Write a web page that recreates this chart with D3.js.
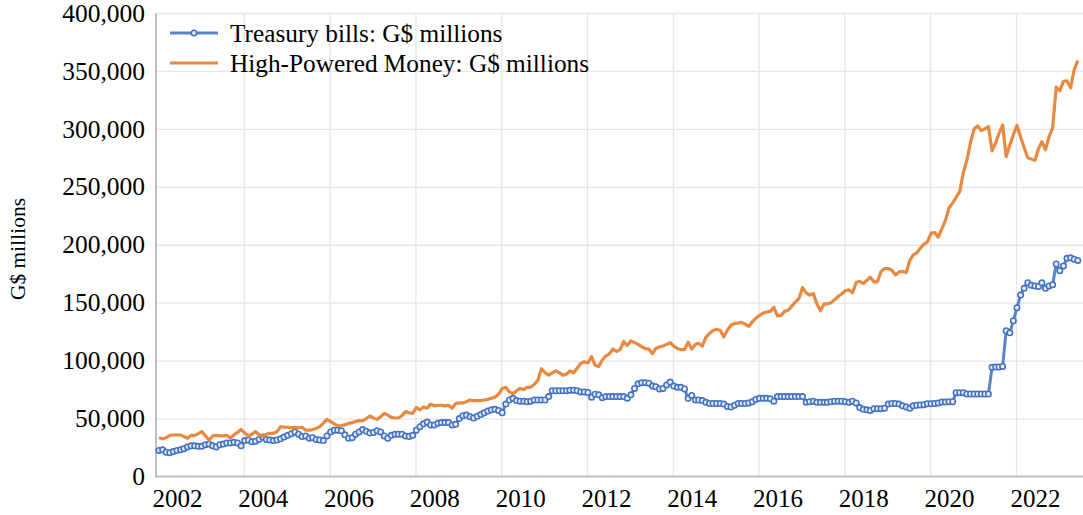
<!DOCTYPE html>
<html>
<head>
<meta charset="utf-8">
<script src="https://cdn.jsdelivr.net/npm/d3@7"></script>
<style>
  body { margin: 0; background: #fff; }
</style>
</head>
<body>
<div id="chart"></div>
<script>
// monthly data, Aug 2001 .. Jan 2023 (G$ millions)
const firstMonth = new Date(2001, 7, 1);

const treasuryBills = [
  22500, 23000, 21000, 20500, 21500,
  22500, 23000, 24000, 25500, 26500, 26500, 26000, 26000, 27500, 28000, 26500, 25500,
  27500, 28000, 29000, 29000, 29500, 29000, 26500, 31000, 31500, 30000, 30500, 32000,
  34000, 32000, 31500, 31000, 31500, 32500, 34000, 35500, 37000, 38500, 36500, 34500,
  35000, 33000, 33500, 32000, 31500, 31000, 35000, 38500, 40000, 40000, 39500, 36000,
  33000, 33500, 36500, 38500, 40500, 39000, 37500, 38000, 39500, 38500, 35000, 33000,
  35500, 36500, 36500, 36500, 35000, 34500, 35500, 40000, 43000, 45500, 47000, 44500,
  44500, 46000, 46500, 46500, 46500, 44500, 45000, 50000, 52500, 53000, 51500, 50500,
  52000, 53500, 55000, 56500, 57500, 58000, 57000, 55000, 62500, 66000, 67500, 65500,
  65000, 65000, 64500, 65000, 66000, 66000, 66000, 66000, 69000, 74000, 74000, 74000,
  74000, 74000, 74500, 74500, 74000, 73000, 73000, 72500, 68500, 71000, 70500, 68000,
  69000, 69000, 69000, 69000, 69000, 69000, 67500, 70500, 76000, 80000, 81000, 81000,
  80500, 78000, 77500, 75500, 76000, 79000, 81500, 78000, 77000, 77000, 75500, 67500,
  70000, 66000, 66000, 65500, 64000, 63000, 63000, 63000, 63000, 62500, 60500, 60000,
  61500, 63000, 63000, 63000, 63500, 64500, 66500, 67500, 67500, 67500, 67000, 65000,
  69000, 69000, 69000, 69000, 69000, 69000, 69000, 69000, 64000, 64500, 65000, 64000,
  64000, 64000, 64000, 64500, 65000, 65000, 65000, 64500, 64000, 65000, 63500, 59500,
  58000, 57500, 57000, 58500, 58500, 58500, 59000, 62500, 63000, 63000, 62500, 61000,
  60000, 58800, 61000, 61500, 61700, 62000, 62800, 62800, 63000, 63500, 64200, 64200,
  64500, 64500, 72300, 72300, 72300, 71200, 71200, 71200, 71200, 71200, 71200, 71200,
  94200, 94500, 94500, 95000, 125800, 124000, 134400, 145700, 156600, 162400, 167200, 165000,
  164500, 164000, 167200, 162400, 164500, 165500, 183400, 177600, 181700, 188300, 188700, 187500,
  186500
];

const highPoweredMoney = [
  33500, 32500, 33500, 35500, 35800,
  35800, 35800, 34500, 33000, 35500, 35500, 37000, 38700, 35000, 31500, 35000, 35500,
  35000, 35000, 35500, 33000, 36000, 38000, 40700, 37500, 35000, 36500, 38700, 36000,
  34500, 36500, 37300, 37300, 38500, 43000, 42500, 42500, 42000, 42500, 42000, 42500,
  40000, 40000, 40500, 41500, 43000, 46000, 49300, 47500, 45500, 43800, 44000, 44500,
  45900, 46500, 47500, 48200, 48000, 50000, 52200, 50500, 49300, 51500, 54500, 53000,
  51000, 50500, 50500, 52500, 56000, 55000, 54500, 59500, 57500, 60000, 59000, 62500,
  61000, 61500, 61500, 61000, 61500, 59000, 63000, 63500, 63500, 64500, 66000, 65500,
  65500, 65500, 66000, 66500, 67500, 68500, 71000, 76000, 77000, 73000, 71500, 74000,
  76000, 75000, 77000, 77000, 79500, 83000, 93000, 89500, 87500, 89500, 91000, 89500,
  87500, 88500, 91000, 89500, 93500, 97500, 99000, 98000, 103500, 96000, 95000, 100500,
  104000, 106000, 110000, 108000, 109500, 116500, 113000, 117000, 115500, 114000, 112000, 110500,
  110000, 106000, 110500, 112000, 112500, 114000, 115500, 112500, 110500, 109500, 109500, 116000,
  110000, 114000, 115000, 112500, 120000, 123500, 126000, 127000, 126000, 120500, 126500, 130500,
  132000, 132500, 133000, 131500, 129500, 133500, 136500, 139000, 141000, 142000, 142500, 146000,
  138500, 139000, 142500, 143500, 147000, 150500, 153500, 163000, 158500, 156500, 158000, 149000,
  143000, 149000, 149000, 150000, 152500, 155500, 157500, 160500, 161000, 158500, 167500, 168500,
  166500, 169500, 172000, 168000, 168000, 177000, 179500, 179500, 178000, 174000, 176500, 177000,
  176000, 186500, 191000, 193000, 197000, 200500, 202500, 210000, 210500, 206500, 214000, 221000,
  232000, 236000, 241000, 246000, 262000, 273000, 288000, 300000, 302500, 298500, 300000, 302000,
  281000, 288000, 296000, 303300, 276000, 286000, 295000, 303000, 293000, 284000, 275000, 274000,
  273000, 283000, 289000, 282000, 293000, 301000, 336000, 333000, 341000, 341500, 335500, 351000,
  359000
];

const yTicks = [0, 50000, 100000, 150000, 200000, 250000, 300000, 350000, 400000];
const yearLabels = [2002, 2004, 2006, 2008, 2010, 2012, 2014, 2016, 2018, 2020, 2022];
const gridYears = [2003, 2005, 2007, 2009, 2011, 2013, 2015, 2017, 2019, 2021];
const seriesNames = ["Treasury bills: G$ millions", "High-Powered Money: G$ millions"];

const width = 1083, height = 515;
const plotLeft = 156, plotTop = 13, plotBottom = 476.5, plotRight = 1083;
const blue = "#5a84c8", blueDark = "#4472c4", orange = "#e8893f";
const serif = '"Liberation Serif", "Times New Roman", serif';

const months = d3.timeMonth.range(firstMonth, d3.timeMonth.offset(firstMonth, treasuryBills.length));

const svg = d3.select("#chart").append("svg")
  .attr("width", width)
  .attr("height", height)
  .style("background", "#fff");

const x = d3.scaleTime()
  .domain([months[0], months[months.length - 1]])
  .range([159, 1077.8]);

const y = d3.scaleLinear()
  .domain([0, 400000])
  .range([plotBottom, plotTop]);

// horizontal gridlines
svg.append("g")
  .attr("transform", `translate(${plotLeft},0)`)
  .call(d3.axisLeft(y).tickValues(yTicks.slice(1)).tickSize(-(plotRight - plotLeft)).tickFormat(""))
  .call(g => g.select(".domain").remove())
  .call(g => g.selectAll("line").attr("stroke", "#e6e6e6").attr("stroke-width", 1.3));

// vertical gridlines (between Jul/Aug of odd years)
svg.append("g")
  .attr("transform", `translate(0,${plotBottom})`)
  .call(d3.axisBottom(x).tickValues(gridYears.map(yr => new Date(yr, 6, 24))).tickSize(-(plotBottom - plotTop)).tickFormat(""))
  .call(g => g.select(".domain").remove())
  .call(g => g.selectAll("line").attr("stroke", "#e6e6e6").attr("stroke-width", 1.3));

// axis lines
svg.append("line")
  .attr("x1", plotLeft).attr("x2", plotLeft).attr("y1", plotTop).attr("y2", plotBottom + 1)
  .attr("stroke", "#bfbfbf").attr("stroke-width", 2);
svg.append("line")
  .attr("x1", plotLeft).attr("x2", plotRight).attr("y1", plotBottom).attr("y2", plotBottom)
  .attr("stroke", "#bfbfbf").attr("stroke-width", 2);

// y labels
svg.append("g")
  .attr("transform", `translate(${plotLeft - 11},0)`)
  .call(d3.axisLeft(y).tickValues(yTicks).tickSize(0).tickPadding(0).tickFormat(d3.format(",")))
  .call(g => g.select(".domain").remove())
  .call(g => g.selectAll("text")
    .style("font-family", serif).style("font-size", "25.5px").attr("fill", "#000"));

// x labels
svg.append("g")
  .attr("transform", `translate(0,${plotBottom})`)
  .call(d3.axisBottom(x).tickValues(yearLabels.map(yr => new Date(yr, 0, 1))).tickSize(0).tickPadding(13).tickFormat(d3.timeFormat("%Y")))
  .call(g => g.select(".domain").remove())
  .call(g => g.selectAll("text")
    .style("font-family", serif).style("font-size", "25px").attr("fill", "#000"));

// y title
svg.append("text")
  .attr("transform", "translate(25,249) rotate(-90)")
  .attr("text-anchor", "middle")
  .style("font-family", serif)
  .style("font-size", "21.5px")
  .text("G$ millions");

// series
const line = d3.line()
  .x((d, i) => x(months[i]))
  .y(d => y(d));

svg.append("path")
  .datum(treasuryBills)
  .attr("fill", "none")
  .attr("stroke", blue)
  .attr("stroke-width", 3)
  .attr("stroke-linejoin", "round")
  .attr("d", line);

svg.append("g")
  .selectAll("circle")
  .data(treasuryBills)
  .enter()
  .append("circle")
  .attr("cx", (d, i) => x(months[i]))
  .attr("cy", d => y(d))
  .attr("r", 2.7)
  .attr("fill", "#e9eef8")
  .attr("stroke", blueDark)
  .attr("stroke-width", 1.6);

svg.append("path")
  .datum(highPoweredMoney)
  .attr("fill", "none")
  .attr("stroke", orange)
  .attr("stroke-width", 3.2)
  .attr("stroke-linejoin", "round")
  .attr("d", line);

// legend
const legend = svg.append("g");
const legendRows = [
  { name: seriesNames[0], color: blue, marker: true, y: 33 },
  { name: seriesNames[1], color: orange, marker: false, y: 63 }
];
legendRows.forEach(r => {
  legend.append("line")
    .attr("x1", 170).attr("x2", 218).attr("y1", r.y).attr("y2", r.y)
    .attr("stroke", r.color).attr("stroke-width", 3.2);
  if (r.marker) {
    legend.append("circle")
      .attr("cx", 194).attr("cy", r.y).attr("r", 2.7)
      .attr("fill", "#e9eef8").attr("stroke", blueDark).attr("stroke-width", 1.6);
  }
  legend.append("text")
    .attr("x", 230).attr("y", r.y).attr("dy", "0.35em")
    .style("font-family", serif)
    .style("font-size", "25.3px")
    .text(r.name);
});
</script>
</body>
</html>
